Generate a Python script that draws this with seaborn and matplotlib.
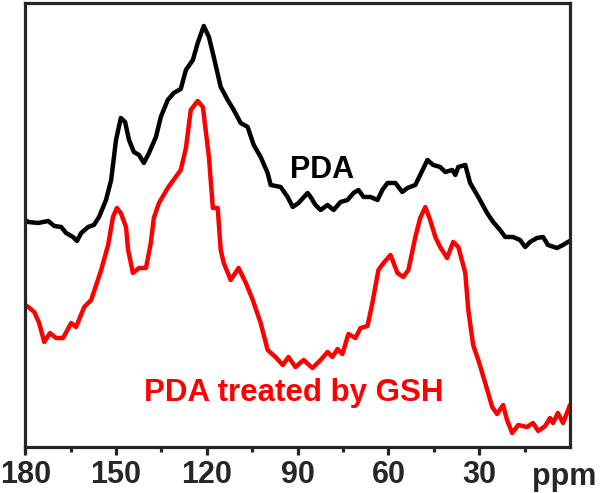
import numpy as np
import pandas as pd
import seaborn as sns
import matplotlib.pyplot as plt

# PDA (siyah) egrisi: kimyasal kayma (ppm) ve yogunluk (keyfi birim)
pda_ppm = [180.0, 179.0, 175.7, 172.4, 170.4, 168.1, 166.5, 164.2, 162.9, 161.5,
           159.2, 157.3, 155.6, 153.3, 151.6, 150.0, 148.4, 147.0, 145.7, 144.1,
           142.4, 140.8, 139.1, 136.8, 135.2, 132.9, 130.9, 128.6, 126.9, 124.6,
           123.0, 121.0, 119.3, 117.7, 115.4, 113.1, 111.1, 108.8, 106.5, 104.5,
           102.2, 99.9, 98.9, 95.6, 93.3, 91.6, 89.7, 86.7, 85.7, 84.1,
           82.4, 80.1, 78.1, 75.8, 73.5, 71.5, 69.9, 68.2, 65.9, 63.6,
           62.0, 60.3, 57.7, 55.4, 53.7, 51.1, 49.5, 47.1, 45.2, 42.9,
           41.2, 38.9, 37.9, 36.9, 34.6, 33.0, 30.3, 27.4, 25.4, 23.1,
           21.4, 18.8, 16.5, 14.8, 13.2, 10.9, 8.9, 7.3, 4.3, 2.3,
           0.7, 0.0]
pda_int = [227, 225, 224, 226, 221, 220, 214, 210, 206, 214,
           220, 222, 230, 247, 267, 307, 329, 325, 307, 295,
           292, 284, 294, 310, 330, 347, 354, 358, 377, 387,
           404, 421, 410, 390, 360, 347, 337, 324, 320, 302,
           290, 274, 262, 260, 250, 240, 244, 254, 250, 242,
           237, 242, 237, 245, 247, 254, 257, 250, 250, 247,
           257, 264, 264, 255, 259, 262, 272, 287, 282, 280,
           275, 277, 272, 280, 282, 264, 250, 234, 225, 217,
           210, 210, 207, 200, 205, 209, 210, 202, 199, 202,
           205, 206]

# GSH ile islenmis PDA (kirmizi) egrisi
gsh_ppm = [180.0, 179.0, 177.0, 175.4, 173.7, 171.8, 169.8, 167.5, 164.8, 163.2,
           160.5, 158.2, 154.9, 152.6, 151.0, 149.7, 148.4, 146.7, 146.0, 144.4,
           142.4, 140.1, 138.5, 137.5, 135.8, 132.9, 128.6, 126.9, 125.3, 123.0,
           121.3, 119.3, 118.0, 116.4, 115.4, 114.4, 112.1, 109.5, 107.1, 104.8,
           102.2, 99.9, 97.3, 94.9, 93.0, 90.7, 88.0, 85.1, 82.4, 80.1,
           78.5, 76.8, 75.2, 73.2, 70.9, 69.2, 66.9, 65.3, 63.3, 61.6,
           59.3, 57.0, 55.1, 53.4, 51.1, 49.5, 47.8, 46.2, 44.5, 42.9,
           40.6, 39.6, 38.6, 36.9, 34.6, 33.6, 32.0, 30.3, 28.0, 25.7,
           24.1, 22.1, 20.8, 19.1, 17.1, 14.2, 12.2, 10.5, 8.2, 6.6,
           5.6, 4.0, 2.3, 0.0]
gsh_int = [142, 140, 135, 124, 105, 114, 109, 109, 124, 120,
           140, 147, 177, 202, 230, 239, 234, 220, 197, 174,
           179, 179, 204, 229, 244, 259, 277, 299, 337, 346,
           340, 290, 239, 239, 197, 184, 167, 179, 164, 147,
           124, 97, 90, 82, 90, 80, 87, 79, 87, 95,
           90, 98, 93, 113, 109, 119, 121, 144, 177, 184,
           192, 174, 170, 177, 210, 229, 240, 227, 210, 200,
           189, 197, 205, 200, 174, 137, 102, 87, 64, 40,
           33, 42, 27, 14, 22, 20, 24, 16, 21, 29,
           24, 34, 24, 42]

major_ticks = [180, 150, 120, 90, 60, 30]
minor_ticks = [165, 135, 105, 75, 45, 15]

df_pda = pd.DataFrame({"ppm": pda_ppm, "intensity": pda_int})
df_gsh = pd.DataFrame({"ppm": gsh_ppm, "intensity": gsh_int})

sns.set_style("ticks")
plt.rcParams['font.family'] = ['Liberation Sans', 'DejaVu Sans']
plt.rcParams['font.weight'] = 'bold'

fig = plt.figure(figsize=(6, 4.93), dpi=100)
ax = fig.add_axes([0.042, 0.0933, 0.908, 0.9007])

sns.lineplot(data=df_pda, x="ppm", y="intensity", color="black", lw=3.2,
             sort=False, estimator=None, ax=ax)
sns.lineplot(data=df_gsh, x="ppm", y="intensity", color="#ff0000", lw=3.2,
             sort=False, estimator=None, ax=ax)

ax.set_xlim(180, 0)
ax.set_ylim(0, 444)
ax.set_xticks(major_ticks)
ax.set_xticks(minor_ticks, minor=True)
ax.set_yticks([])
ax.set_xlabel("")
ax.set_ylabel("")

for s in ax.spines.values():
    s.set_linewidth(2.3)
    s.set_visible(True)
ax.tick_params(axis="x", which="major", direction="out", length=6, width=2.3,
               labelsize=22, pad=3)
ax.tick_params(axis="x", which="minor", direction="out", length=3.5, width=2.3)
for lbl in ax.get_xticklabels():
    lbl.set_fontweight("bold")

# Etiketler
ax.text(81.8, 277, "PDA", color="black", fontsize=22, fontweight="bold",
        ha="center", va="center")
ax.text(91.3, 54, "PDA treated by GSH", color="#ff0000", fontsize=22.5,
        fontweight="bold", ha="center", va="center")
ax.text(0.99, -0.0856, "ppm", transform=ax.transAxes, fontsize=22,
        fontweight="bold", ha="center", va="baseline")

fig.savefig("out.png", dpi=100)
